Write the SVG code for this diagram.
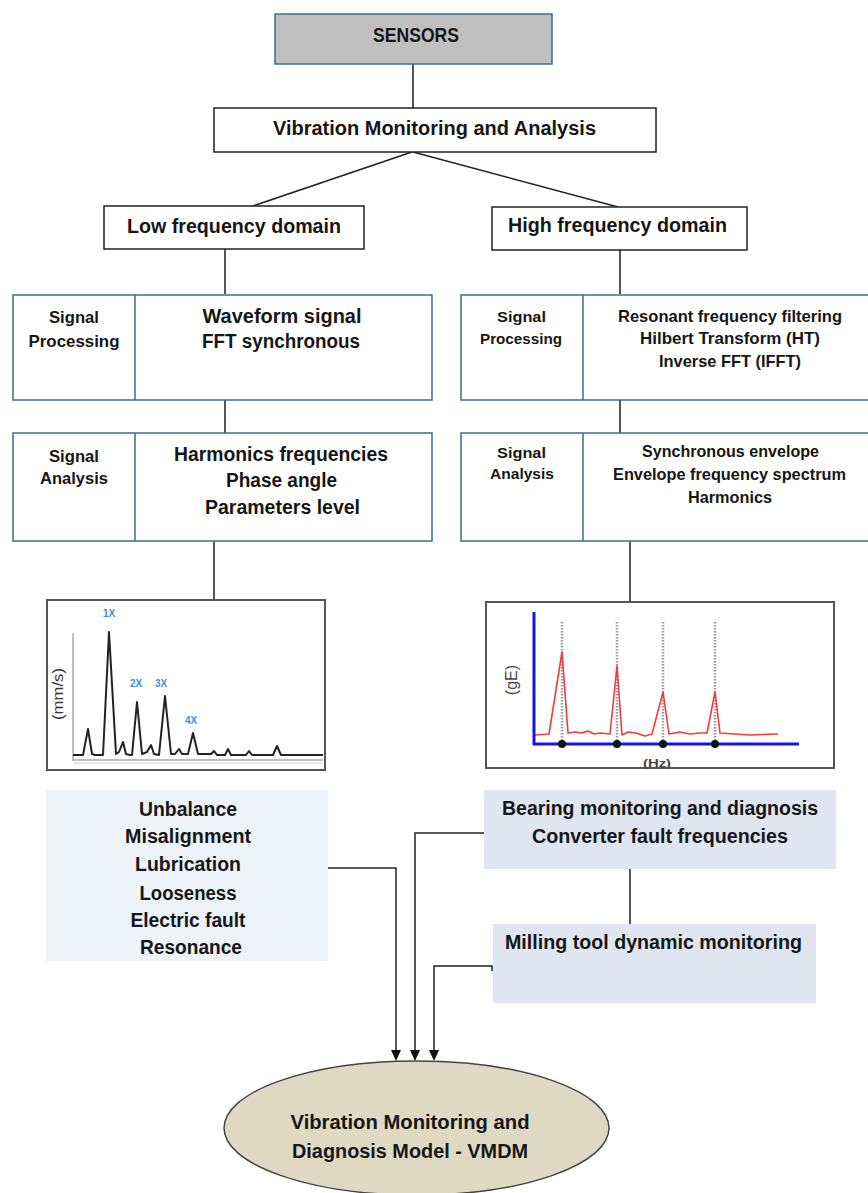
<svg xmlns="http://www.w3.org/2000/svg" width="868" height="1193" viewBox="0 0 868 1193">
<style>
.t{font-family:"Liberation Sans",Arial,sans-serif;font-weight:bold;fill:#161616;text-anchor:middle}
.s19{font-size:19.5px}
.s17{font-size:17px}
.s16{font-size:16.5px}
.s15{font-size:15.5px}
.bx{fill:#fff;stroke:#222;stroke-width:1.5}
.sb{fill:#fff;stroke:#41689c;stroke-width:1.5}
.ch{fill:#fff;stroke:#555;stroke-width:2}
.vl{fill:none;stroke:#555;stroke-width:2}
.dl{fill:none;stroke:#222;stroke-width:1.5}
.hx{font-family:"Liberation Sans",Arial,sans-serif;font-weight:bold;font-size:10px;fill:#3d8fd6;text-anchor:middle}
.dot{stroke:#999;stroke-width:2.5;stroke-dasharray:1.5 1.5;fill:none}
</style>
<defs>
<path id="ah" d="M-5,-11 L5,-11 L0,0 Z" fill="#111"/>
</defs>
<rect width="868" height="1193" fill="#fff"/>

<g id="connectors">
<path class="vl" d="M413,64 V108"/>
<path class="dl" d="M412,152 L253,206"/>
<path class="dl" d="M413,152 L618,207"/>
<path class="vl" d="M225,249 V294"/>
<path class="vl" d="M225,400 V433"/>
<path class="vl" d="M214,541 V600"/>
<path class="vl" d="M620,250 V294"/>
<path class="vl" d="M620,400 V433"/>
<path class="vl" d="M630,541 V602"/>
<path class="vl" d="M630,869 V924"/>
<path class="dl" d="M328,868 H396 V1051"/>
<path class="dl" d="M484,833 H415 V1051"/>
<path class="dl" d="M492,971 V966 H434 V1051"/>
<use href="#ah" x="396" y="1061"/>
<use href="#ah" x="415" y="1061"/>
<use href="#ah" x="434" y="1061"/>
</g>

<g id="sensors">
<rect x="275" y="14" width="277" height="50" fill="#c0c0c0" stroke="#41689c" stroke-width="1.5"/>
<text class="t s19" x="416" y="42" textLength="86" lengthAdjust="spacingAndGlyphs">SENSORS</text>
</g>

<g id="vma">
<rect class="bx" x="214" y="108" width="442" height="44"/>
<text class="t s19" x="434.5" y="135" textLength="323" lengthAdjust="spacingAndGlyphs">Vibration Monitoring and Analysis</text>
</g>

<g id="low">
<rect class="bx" x="104" y="206" width="260" height="43"/>
<text class="t s19" x="234" y="233" textLength="214" lengthAdjust="spacingAndGlyphs">Low frequency domain</text>
</g>

<g id="high">
<rect class="bx" x="492" y="207" width="255" height="43"/>
<text class="t s19" x="617.5" y="232" textLength="219" lengthAdjust="spacingAndGlyphs">High frequency domain</text>
</g>

<g id="low-processing">
<rect class="sb" x="13" y="295" width="419" height="105"/>
<line x1="135" y1="295" x2="135" y2="400" stroke="#41689c" stroke-width="1.5"/>
<text class="t s17" x="74" y="323" textLength="50" lengthAdjust="spacingAndGlyphs">Signal</text>
<text class="t s17" x="74" y="347" textLength="91" lengthAdjust="spacingAndGlyphs">Processing</text>
<text class="t s19" x="282" y="323" textLength="159" lengthAdjust="spacingAndGlyphs">Waveform signal</text>
<text class="t s19" x="281" y="348" textLength="158" lengthAdjust="spacingAndGlyphs">FFT synchronous</text>
</g>

<g id="low-analysis">
<rect class="sb" x="13" y="433" width="419" height="108"/>
<line x1="135" y1="433" x2="135" y2="541" stroke="#41689c" stroke-width="1.5"/>
<text class="t s17" x="74" y="462" textLength="50" lengthAdjust="spacingAndGlyphs">Signal</text>
<text class="t s17" x="74" y="484" textLength="68" lengthAdjust="spacingAndGlyphs">Analysis</text>
<text class="t s19" x="281" y="461" textLength="214" lengthAdjust="spacingAndGlyphs">Harmonics frequencies</text>
<text class="t s19" x="281.5" y="487" textLength="111" lengthAdjust="spacingAndGlyphs">Phase angle</text>
<text class="t s19" x="282.5" y="514" textLength="155" lengthAdjust="spacingAndGlyphs">Parameters level</text>
</g>

<g id="high-processing">
<rect class="sb" x="461" y="295" width="412" height="105"/>
<line x1="583" y1="295" x2="583" y2="400" stroke="#41689c" stroke-width="1.5"/>
<text class="t s15" x="521.5" y="322" textLength="49" lengthAdjust="spacingAndGlyphs">Signal</text>
<text class="t s15" x="521" y="344" textLength="82" lengthAdjust="spacingAndGlyphs">Processing</text>
<text class="t s16" x="730" y="322" textLength="224" lengthAdjust="spacingAndGlyphs">Resonant frequency filtering</text>
<text class="t s16" x="730" y="344" textLength="180" lengthAdjust="spacingAndGlyphs">Hilbert Transform (HT)</text>
<text class="t s16" x="730" y="367" textLength="142" lengthAdjust="spacingAndGlyphs">Inverse FFT (IFFT)</text>
</g>

<g id="high-analysis">
<rect class="sb" x="461" y="433" width="412" height="108"/>
<line x1="583" y1="433" x2="583" y2="541" stroke="#41689c" stroke-width="1.5"/>
<text class="t s15" x="521.5" y="458" textLength="49" lengthAdjust="spacingAndGlyphs">Signal</text>
<text class="t s15" x="522" y="479" textLength="64" lengthAdjust="spacingAndGlyphs">Analysis</text>
<text class="t s16" x="730.5" y="457" textLength="177" lengthAdjust="spacingAndGlyphs">Synchronous envelope</text>
<text class="t s16" x="729.5" y="480" textLength="233" lengthAdjust="spacingAndGlyphs">Envelope frequency spectrum</text>
<text class="t s16" x="730" y="503" textLength="84" lengthAdjust="spacingAndGlyphs">Harmonics</text>
</g>

<g id="low-chart">
<rect class="ch" x="47" y="600" width="278" height="170"/>
<path d="M73,633 V760 H323" fill="none" stroke="#aaa" stroke-width="1.5"/>
<path d="M73,763 H323" fill="none" stroke="#ccc" stroke-width="1"/>
<path d="M73,755 H83 L88,729 L92,754 L95,755 H103 L109,632 L116,754 L119,752 L123,742 L126,754 L130,755 H132 L137,702 L142,754 L147,752 L151,745 L154,754 L159,755 L165,696 L171,754 L175,754 L179,749 L182,754 L188,754 L193,733 L198,754 H211 L214,751 L217,755 H225 L228,749 L231,755 H246 L249,751 L252,755 H273 L277,746 L281,755 H323" fill="none" stroke="#222" stroke-width="2" stroke-linejoin="round"/>
<text class="hx" x="109" y="617">1X</text>
<text class="hx" x="136" y="687">2X</text>
<text class="hx" x="161" y="687">3X</text>
<text class="hx" x="191" y="724">4X</text>
<text x="63" y="694" transform="rotate(-90 63 694)" font-family="'Liberation Sans',Arial,sans-serif" font-size="14" fill="#333" text-anchor="middle" textLength="52" lengthAdjust="spacingAndGlyphs">(mm/s)</text>
</g>

<g id="high-chart">
<rect class="ch" x="486" y="602" width="348" height="166"/>
<path class="dot" d="M562,622 V744 M617,622 V744 M663,622 V744 M715,622 V744"/>
<path d="M535,735 L549,734 L562,652 L568,733 L575,732 L582,733 L588,731 L594,734 L600,733 L610,734 L617,666 L622,735 L628,732 L636,733 L645,736 L652,734 L663,692 L669,734 L680,732 L690,734 L700,733 L707,733 L715,692 L720,733 L735,734 L750,735 L778,734" fill="none" stroke="#f03c3c" stroke-width="1.6" stroke-linejoin="round"/>
<path d="M534,612 V744 H799" fill="none" stroke="#1414f0" stroke-width="3"/>
<circle cx="562" cy="744" r="4" fill="#111"/>
<circle cx="617" cy="744" r="4" fill="#111"/>
<circle cx="663" cy="744" r="4" fill="#111"/>
<circle cx="715" cy="744" r="4" fill="#111"/>
<text x="517" y="680" transform="rotate(-90 517 680)" font-family="'Liberation Sans',Arial,sans-serif" font-size="16" fill="#444" text-anchor="middle">(gE)</text>
<text x="657" y="767" font-family="'Liberation Sans',Arial,sans-serif" font-size="11" font-weight="bold" fill="#444" text-anchor="middle" textLength="28" lengthAdjust="spacingAndGlyphs">(Hz)</text>
</g>

<g id="low-faults">
<rect x="46" y="790" width="282" height="171" fill="#eef2f9"/>
<text class="t s19" x="188" y="816" textLength="98" lengthAdjust="spacingAndGlyphs">Unbalance</text>
<text class="t s19" x="188" y="843" textLength="126" lengthAdjust="spacingAndGlyphs">Misalignment</text>
<text class="t s19" x="188" y="871" textLength="106" lengthAdjust="spacingAndGlyphs">Lubrication</text>
<text class="t s19" x="188" y="900" textLength="97" lengthAdjust="spacingAndGlyphs">Looseness</text>
<text class="t s19" x="188" y="927" textLength="115" lengthAdjust="spacingAndGlyphs">Electric fault</text>
<text class="t s19" x="191" y="954" textLength="102" lengthAdjust="spacingAndGlyphs">Resonance</text>
</g>

<g id="bearing">
<rect x="484" y="790" width="352" height="79" fill="#dfe6f1"/>
<text class="t s19" x="660" y="815" textLength="316" lengthAdjust="spacingAndGlyphs">Bearing monitoring and diagnosis</text>
<text class="t s19" x="660" y="843" textLength="256" lengthAdjust="spacingAndGlyphs">Converter fault frequencies</text>
</g>

<g id="milling">
<rect x="493" y="924" width="323" height="79" fill="#dfe6f1"/>
<text class="t s19" x="653.5" y="949" textLength="297" lengthAdjust="spacingAndGlyphs">Milling tool dynamic monitoring</text>
</g>

<g id="vmdm">
<ellipse cx="416.5" cy="1128" rx="192.5" ry="67" fill="#ddd9c3" stroke="#444" stroke-width="1.5"/>
<text class="t s19" x="410" y="1129" textLength="239" lengthAdjust="spacingAndGlyphs">Vibration Monitoring and</text>
<text class="t s19" x="410" y="1158" textLength="236" lengthAdjust="spacingAndGlyphs">Diagnosis Model - VMDM</text>
</g>
</svg>
